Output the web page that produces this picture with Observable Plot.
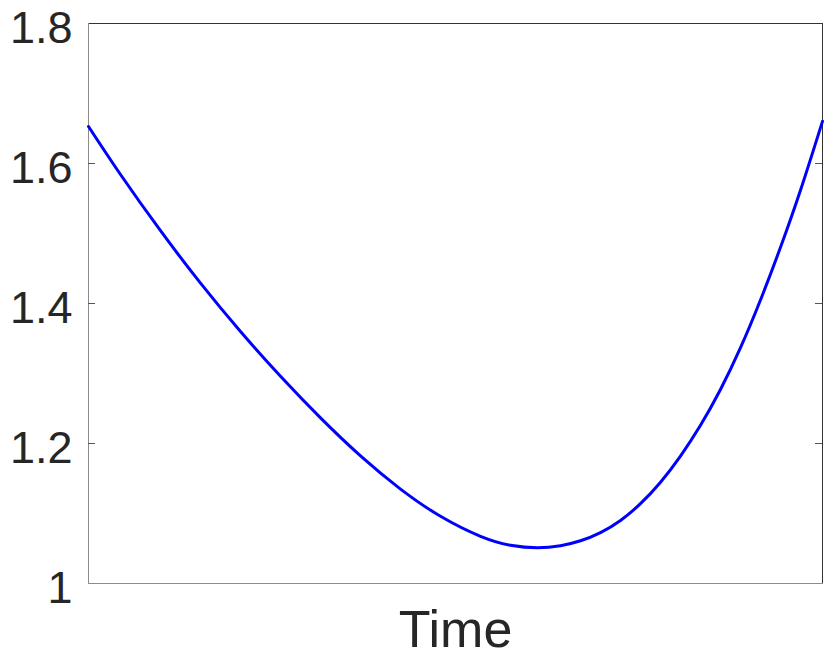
<!DOCTYPE html>
<html>
<head>
<meta charset="utf-8">
<script src="https://cdn.jsdelivr.net/npm/d3@7"></script>
<script src="https://cdn.jsdelivr.net/npm/@observablehq/plot@0.6"></script>
<style>
  html, body { margin: 0; padding: 0; background: #fff; }
  #chart svg { display: block; }
</style>
</head>
<body>
<div id="chart"></div>
<script>
// Time (fraction of the shown interval) and series values
const time = [0, 0.0436, 0.0981, 0.1526, 0.2071, 0.2616, 0.3161, 0.3706, 0.4251, 0.4796, 0.5341, 0.5749, 0.6117, 0.6431, 0.6703, 0.6975, 0.7248, 0.7520, 0.7793, 0.8065, 0.8338, 0.8610, 0.8883, 0.9155, 0.9428, 0.9700, 1];
const value = [1.6529, 1.5843, 1.5040, 1.4291, 1.3600, 1.2960, 1.2366, 1.1823, 1.1349, 1.0960, 1.0674, 1.0546, 1.0510, 1.0540, 1.0610, 1.0727, 1.0901, 1.1140, 1.1447, 1.1821, 1.2260, 1.2771, 1.3369, 1.4050, 1.4803, 1.5617, 1.6603];
const yTicks = [1, 1.2, 1.4, 1.6, 1.8];
const yTickLabels = ["1", "1.2", "1.4", "1.6", "1.8"];
const xLabel = "Time";

const data = time.map((t, i) => ({t, v: value[i]}));
const labelOf = new Map(yTicks.map((d, i) => [d, yTickLabels[i]]));

const W = 830, H = 658, ML = 88, MR = 8, MT = 23, MB = 75;
const innerW = W - ML - MR;
const axisColor = "#262626";

const chart = Plot.plot({
  width: W,
  height: H,
  marginLeft: ML,
  marginRight: MR,
  marginTop: MT,
  marginBottom: MB,
  style: {fontFamily: "'Liberation Sans', Arial, Helvetica, sans-serif", background: "#fff", overflow: "visible"},
  x: {domain: [0, 1], axis: null},
  y: {domain: [1, 1.8], axis: null},
  marks: [
    // box
    Plot.frame({anchor: "top", stroke: "#333", strokeWidth: 1}),
    Plot.frame({anchor: "right", stroke: "#333", strokeWidth: 1}),
    Plot.frame({anchor: "left", stroke: "#8c8c8c", strokeWidth: 1}),
    Plot.frame({anchor: "bottom", stroke: "#8c8c8c", strokeWidth: 1}),
    // inward tick marks left and right
    Plot.tickY(yTicks.slice(1, -1), {y: d => d, stroke: "#555", strokeWidth: 1, insetLeft: 0, insetRight: innerW - 7}),
    Plot.tickY(yTicks.slice(1, -1), {y: d => d, stroke: "#555", strokeWidth: 1, insetLeft: innerW - 7, insetRight: 0}),
    // y tick labels
    Plot.axisY(yTicks, {
      anchor: "left",
      tickSize: 0,
      tickPadding: 16,
      tickFormat: d => labelOf.get(d),
      fontSize: 45,
      fill: axisColor,
      dy: 5,
      label: null
    }),
    // x label
    Plot.text([xLabel], {
      text: d => d,
      frameAnchor: "bottom",
      textAnchor: "middle",
      lineAnchor: "middle",
      dy: 47,
      fontSize: 52,
      fill: axisColor
    }),
    // series
    Plot.line(data, {x: "t", y: "v", stroke: "#0000ff", strokeWidth: 3, curve: "natural"})
  ]
});
document.getElementById("chart").appendChild(chart);
</script>
</body>
</html>
